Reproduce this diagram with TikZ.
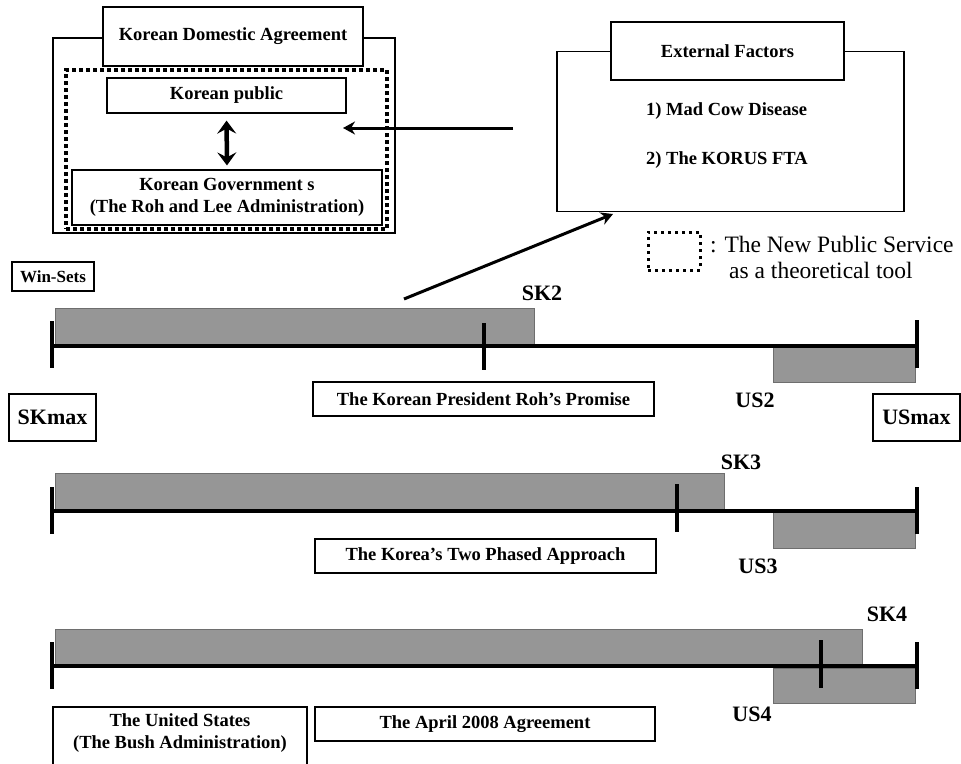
\documentclass[tikz,border=0pt]{standalone}
\usepackage{fontspec}
\setmainfont{Liberation Serif}
\usetikzlibrary{arrows.meta}
\definecolor{barg}{RGB}{150,150,150}
\definecolor{bard}{RGB}{110,110,110}
\begin{document}
\begin{tikzpicture}[x=1pt,y=-1pt,
  box/.style={draw, line width=1.2pt, fill=white, inner sep=0pt},
  btxt/.style={font=\fontsize{18.5}{22}\selectfont\bfseries, align=center},
  lbl/.style={font=\fontsize{22}{26}\selectfont\bfseries, inner sep=0pt},
  bar/.style={fill=barg, draw=bard, line width=0.8pt},
  axisline/.style={line width=4.5pt},
  tickmark/.style={line width=3.5pt},
  nps/.style={draw, line width=4pt, dash pattern=on 4pt off 3pt},
  npsleg/.style={draw, line width=3pt, dash pattern=on 3pt off 4pt, inner sep=0pt},
  bigarrow/.style={line width=3pt, -{Stealth[length=12pt,width=13pt]}},
  dblarrow/.style={line width=4.5pt, {Stealth[length=13pt,width=19pt,inset=5pt]}-{Stealth[length=13pt,width=19pt,inset=5pt]}}
]
\useasboundingbox (0,0) rectangle (961,763);

% ---- Korean Domestic Agreement ----
\node[box, minimum width=342pt, minimum height=195pt] (kdaouter) at (224,135.5) {};
\node[box, btxt, minimum width=260pt, minimum height=59pt] (kdatitle) at (233,36.5) {Korean Domestic Agreement};
\node[nps, inner sep=0pt, minimum width=321pt, minimum height=159pt] (npsbox) at (226.5,149.5) {};
\node[box, btxt, minimum width=239pt, minimum height=35pt] (kpub) at (226.5,95.5) {Korean public};
\node[box, btxt, minimum width=310pt, minimum height=55pt] (kgov) at (227,197.5) {Korean Government s\\(The Roh and Lee Administration)};
\draw[dblarrow, shorten <=7pt, shorten >=4pt] (kpub.south) -- (kgov.north);

% ---- External Factors ----
\node[box, minimum width=347pt, minimum height=160pt] (extouter) at (730.5,131.5) {};
\node[box, btxt, minimum width=233pt, minimum height=58pt] (exttitle) at (727.5,51) {External Factors};
\node[btxt, anchor=west, inner sep=0pt] (mad) at (646,111) {1) Mad Cow Disease};
\node[btxt, anchor=west, inner sep=0pt] (korus) at (646,160) {2) The KORUS FTA};

\coordinate (arrtail) at (513,128);
\coordinate (arrhead) at (343,128);
\draw[bigarrow] (arrtail) -- (arrhead);

\coordinate (diagtail) at (404,299);
\coordinate (diaghead) at (613,214);
\draw[bigarrow] (diagtail) -- (diaghead);

% ---- legend ----
\node[npsleg, minimum width=52pt, minimum height=38pt] (legsq) at (674,251) {};
\node[anchor=base west, inner sep=0pt, font=\fontsize{23.5}{28}\selectfont] (leg1) at (710,252) {: The New Public Service};
\node[anchor=base west, inner sep=0pt, font=\fontsize{23.5}{28}\selectfont] (leg2) at (729,278) {as a theoretical tool};

% ---- side labels ----
\node[box, font=\fontsize{17}{20}\selectfont\bfseries, minimum width=82pt, minimum height=29pt] (winsets) at (53,276.5) {Win-Sets};
\node[box, lbl, minimum width=87pt, minimum height=47pt] (skmax) at (52.5,417.5) {SKmax};
\node[box, lbl, minimum width=87pt, minimum height=47pt] (usmax) at (916.5,417.5) {USmax};

% ---- Row 1 ----
\draw[bar] (55,308) rectangle (534,346);
\draw[bar] (773,347) rectangle (915,382);
\draw[axisline] (52,346) -- (917,346);
\draw[tickmark] (52,321) -- (52,368);
\draw[tickmark] (484,323) -- (484,370);
\draw[tickmark] (917,320) -- (917,368);
\node[lbl] (sk2) at (542,293) {SK2};
\node[lbl] (us2) at (755,400) {US2};
\node[box, btxt, minimum width=341pt, minimum height=34pt] (promise) at (483.5,399) {The Korean President Roh’s Promise};

% ---- Row 2 ----
\draw[bar] (55,473) rectangle (724,511);
\draw[bar] (773,512) rectangle (915,548);
\draw[axisline] (52,511) -- (917,511);
\draw[tickmark] (52,487) -- (52,534);
\draw[tickmark] (677,484) -- (677,532);
\draw[tickmark] (917,487) -- (917,534);
\node[lbl] (sk3) at (741,462) {SK3};
\node[lbl] (us3) at (758,566) {US3};
\node[box, btxt, minimum width=341pt, minimum height=34pt] (phased) at (485.5,556) {The Korea’s Two Phased Approach};

% ---- Row 3 ----
\draw[bar] (55,629) rectangle (862,666);
\draw[bar] (773,668) rectangle (915,703);
\draw[axisline] (52,666) -- (917,666);
\draw[tickmark] (52,642) -- (52,689);
\draw[tickmark] (821,640) -- (821,688);
\draw[tickmark] (917,642) -- (917,689);
\node[lbl] (sk4) at (887,614) {SK4};
\node[lbl] (us4) at (752,714) {US4};
\node[box, btxt, minimum width=340pt, minimum height=34pt] (april) at (485,724) {The April 2008 Agreement};
\node[box, minimum width=254pt, minimum height=68pt] (usbox) at (180,741) {};
\node[btxt, inner sep=0pt] (usname) at (180,733.5) {The United States\\(The Bush Administration)};
\end{tikzpicture}
\end{document}
